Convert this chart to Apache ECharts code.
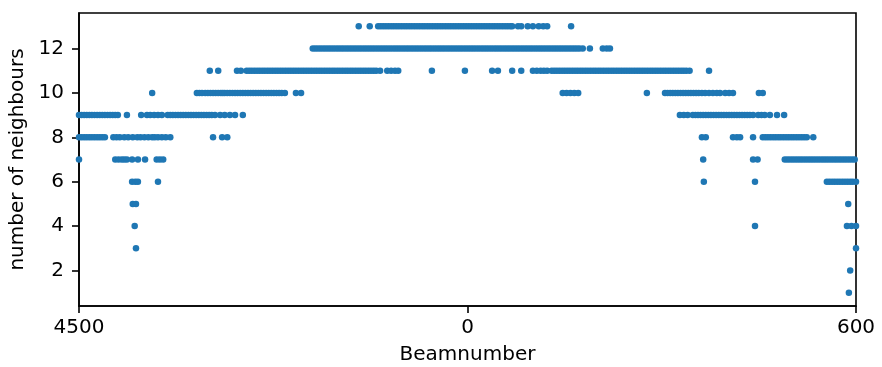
<!DOCTYPE html>
<html>
<head>
<meta charset="utf-8">
<script src="https://cdn.jsdelivr.net/npm/echarts@6/dist/echarts.min.js"></script>
<style>html,body{margin:0;padding:0;background:#fff}#c{width:882px;height:367px}</style>
</head>
<body>
<div id="c"></div>
<script>
// Beam index positions (0..1200 along the axis) of the points at each neighbour count
const level13 = [432,449,462,466,470,474,478,482,486,490,494,498,502,506,510,514,518,522,526,530,534,538,542,546,550,554,558,562,566,570,574,578,582,586,590,594,598,602,606,610,614,618,622,626,630,634,638,642,646,650,654,658,662,666,669,678,683,693,701,710,717,723,760];
const level12 = [361,365,369,373,377,381,385,389,393,397,401,405,409,413,417,421,425,429,433,437,441,445,449,453,457,461,465,469,473,477,481,485,489,493,497,501,505,509,513,517,521,525,529,533,537,541,545,549,553,557,561,565,569,573,577,581,585,589,593,597,601,605,609,613,617,621,625,629,633,637,641,645,649,653,657,661,665,669,673,677,681,685,689,693,697,701,705,709,713,717,721,725,729,733,737,741,745,749,753,757,761,765,769,773,778,789,809,815,820];
const level11 = [202,215,244,250,259,263,267,271,275,279,283,287,291,295,299,303,307,311,315,319,323,327,331,335,339,343,347,351,355,359,363,367,371,375,379,383,387,391,395,399,403,407,411,415,419,423,427,431,435,439,443,447,451,455,459,465,476,482,488,493,545,596,638,647,669,683,701,707,713,718,723,730,734,738,742,746,750,754,758,762,766,770,774,778,782,786,790,794,798,802,806,810,814,818,822,826,830,834,838,842,846,850,854,858,862,866,870,874,878,882,886,890,894,898,902,906,910,914,918,922,926,930,934,938,943,973];
const level10 = [113,182,186,190,195,199,203,207,211,215,219,222,225,229,233,237,241,245,249,253,257,261,265,269,273,277,281,285,289,293,297,301,305,309,313,318,335,343,747,753,759,765,771,877,905,909,913,917,921,925,929,933,937,941,945,949,953,957,962,967,973,979,985,990,998,1004,1010,1050,1056];
const level9 = [0,4,8,12,16,20,24,28,32,36,40,44,48,52,56,60,74,96,105,110,116,122,128,137,141,145,149,153,157,161,165,169,173,177,181,185,189,193,197,201,205,210,218,225,233,241,253,928,934,940,948,952,956,960,964,968,972,976,980,984,988,992,996,1000,1004,1008,1012,1016,1020,1024,1028,1032,1036,1041,1049,1054,1059,1067,1078,1089];
const level8 = [0,4,8,12,16,20,24,28,32,36,40,53,58,63,70,76,83,90,95,101,107,113,117,122,128,134,141,207,221,229,962,968,1010,1016,1021,1041,1056,1060,1064,1068,1072,1076,1080,1084,1088,1092,1096,1100,1104,1108,1112,1116,1120,1124,1134];
const level7 = [0,56,61,66,70,74,82,91,102,120,125,130,964,1041,1048,1090,1094,1098,1102,1106,1110,1114,1118,1122,1126,1130,1134,1138,1142,1146,1150,1154,1158,1162,1166,1170,1174,1178,1182,1186,1190,1194,1198];
const level6 = [82,87,91,122,965,1044,1155,1159,1163,1167,1171,1175,1179,1183,1187,1191,1195,1200];
const level5 = [83,88,1188];
const level4 = [86,1044,1186,1193,1200];
const level3 = [88,1200];
const level2 = [1191];
const level1 = [1189];

const xTickValues = [0, 600, 1200];
const xTickLabels = ['4500', '0', '600'];
const yTickValues = [2, 4, 6, 8, 10, 12];

const levels = [
  [13, level13], [12, level12], [11, level11], [10, level10], [9, level9],
  [8, level8], [7, level7], [6, level6], [5, level5], [4, level4],
  [3, level3], [2, level2], [1, level1]
];
const points = [];
levels.forEach(([y, xs]) => xs.forEach(x => points.push([x, y])));

const font = 'DejaVu Sans';
const chart = echarts.init(document.getElementById('c'), null, {renderer: 'canvas'});
chart.setOption({
  animation: false,
  backgroundColor: '#fff',
  grid: {
    left: 79, right: 26, top: 13, bottom: 61,
    outerBoundsMode: 'none', containLabel: false,
    show: true, borderColor: '#000', borderWidth: 1.6, backgroundColor: 'transparent'
  },
  xAxis: {
    type: 'value', min: 0, max: 1200,
    name: 'Beamnumber', nameLocation: 'middle', nameGap: 39,
    nameTextStyle: {fontFamily: font, fontSize: 20, color: '#000'},
    axisLine: {show: true, lineStyle: {color: '#000', width: 1.6}},
    axisTick: {show: true, length: 7, customValues: xTickValues, lineStyle: {color: '#000', width: 1.6}},
    axisLabel: {
      customValues: xTickValues, margin: 12,
      fontFamily: font, fontSize: 20, color: '#000',
      formatter: v => xTickLabels[xTickValues.indexOf(v)] ?? ''
    },
    splitLine: {show: false}
  },
  yAxis: {
    type: 'value', min: 0.4, max: 13.6,
    name: 'number of neighbours', nameLocation: 'middle', nameGap: 49, nameRotate: 90,
    nameTextStyle: {fontFamily: font, fontSize: 20, color: '#000'},
    axisLine: {show: true, lineStyle: {color: '#000', width: 1.6}},
    axisTick: {show: true, length: 7, customValues: yTickValues, lineStyle: {color: '#000', width: 1.6}},
    axisLabel: {customValues: yTickValues, margin: 15, fontFamily: font, fontSize: 20, color: '#000'},
    splitLine: {show: false}
  },
  series: [{
    type: 'scatter',
    data: points,
    symbol: 'circle',
    symbolSize: 6.5,
    itemStyle: {color: '#1f77b4', opacity: 1},
    clip: true
  }]
});
</script>
</body>
</html>
